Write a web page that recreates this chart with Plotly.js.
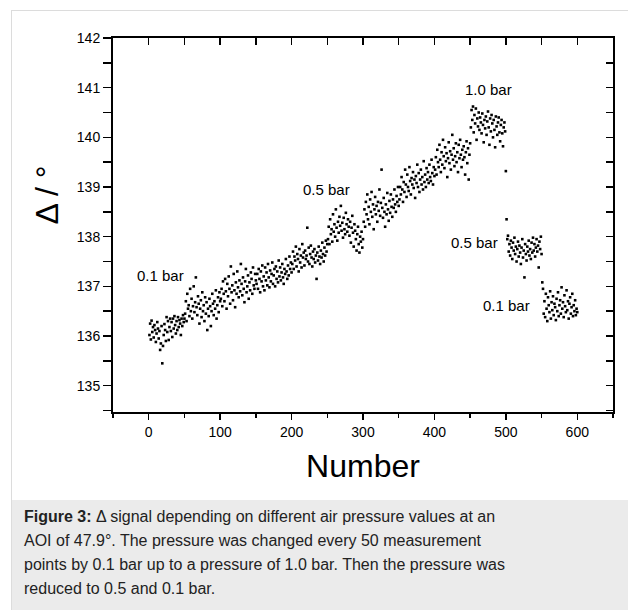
<!DOCTYPE html>
<html><head><meta charset="utf-8">
<script src="https://cdn.plot.ly/plotly-3.0.1.min.js"></script>
<style>
body{margin:0;width:628px;height:610px;position:relative;overflow:hidden;background:#fff;font-family:"Liberation Sans",Arial,sans-serif;}
#frame{position:absolute;left:11px;top:10px;width:640px;height:620px;border-left:1px solid #dcdcdc;border-top:1px solid #dcdcdc;}
#plot{position:absolute;left:0;top:0;width:628px;height:610px;}
#cap{position:absolute;left:12px;top:500px;width:616px;height:110px;background:#ebebeb;color:#222;font-size:16px;line-height:24px;padding:5px 0 0 12px;box-sizing:border-box;white-space:nowrap;}
</style></head>
<body>
<div id="frame"></div>
<div id="plot"></div>
<div id="cap"><b>Figure 3:</b> Δ signal depending on different air pressure values at an<br>AOI of 47.9°. The pressure was changed every 50 measurement<br>points by 0.1 bar up to a pressure of 1.0 bar. Then the pressure was<br>reduced to 0.5 and 0.1 bar.</div>
<script>
// Δ values (degrees), one array per 50 measurement points
const p01a = [136.02,136.25,135.93,136.31,136.08,136.18,135.97,136.22,136.12,135.88,
136.05,136.28,136.15,135.95,136.10,135.72,135.85,136.20,135.45,135.80,
136.02,136.24,136.12,135.90,136.38,136.08,136.30,135.92,136.18,136.35,
136.10,136.28,135.98,136.35,136.15,136.40,136.22,136.05,136.30,136.12,
136.38,136.18,136.32,136.25,136.02,136.35,136.20,136.42,136.28,136.35];
const p02 = [136.45,136.70,136.30,136.85,136.55,136.62,136.40,136.95,136.50,136.75,
136.35,136.60,137.00,136.48,136.68,137.18,136.58,136.42,136.80,136.65,
136.25,136.55,136.72,136.38,136.88,136.50,136.62,136.30,136.78,136.45,
136.68,136.12,136.55,136.40,136.75,136.60,136.20,136.50,136.85,136.65,
136.42,136.70,136.55,136.92,136.35,136.62,136.78,136.48,136.88,136.70];
const p03 = [136.75,136.95,136.60,137.10,136.85,136.70,137.15,136.90,136.55,137.05,
136.80,137.20,136.95,136.65,137.40,136.88,137.02,136.72,137.25,136.92,
136.58,137.08,136.85,137.30,136.98,136.78,137.12,136.90,137.45,137.05,
136.82,137.18,136.95,136.68,137.10,137.35,136.88,137.00,137.22,136.75,
137.08,136.92,137.28,137.15,136.85,137.38,137.02,136.95,137.25,137.12];
const p04 = [137.05,137.25,136.95,137.35,137.15,136.88,137.30,137.10,137.42,137.00,
137.20,136.92,137.38,137.12,137.28,137.02,137.45,137.18,136.98,137.32,
137.10,137.25,137.48,137.05,137.22,137.35,137.00,137.40,137.15,137.30,
137.08,137.52,137.20,137.38,137.12,137.28,137.45,137.18,137.05,137.35,
137.25,137.55,137.30,137.15,137.42,137.22,137.60,137.35,137.48,137.28];
const p05 = [137.45,137.70,137.35,137.60,137.52,137.80,137.40,137.65,137.55,137.30,
137.75,137.48,137.62,137.38,137.85,137.58,137.68,137.42,137.72,137.55,
137.62,138.18,137.50,137.78,137.45,137.65,137.82,137.58,137.40,137.70,
137.55,137.75,137.48,137.62,137.15,137.68,137.52,137.80,137.60,137.45,
137.72,137.58,137.88,137.65,137.50,137.78,137.62,137.92,137.70,137.85];
const p06 = [137.95,138.20,137.85,138.35,138.05,138.15,137.90,138.45,138.10,138.25,
138.00,138.55,138.18,137.92,138.30,138.08,138.40,138.22,138.62,138.12,
138.28,137.98,138.38,138.15,138.05,138.48,138.25,138.10,138.35,138.20,
138.02,138.30,137.88,138.18,138.42,138.08,137.80,138.25,138.12,137.95,
137.72,138.05,138.20,137.85,137.68,138.00,137.90,138.10,137.78,137.95];
const p07 = [138.30,138.55,138.20,138.70,138.45,138.85,138.35,138.60,138.25,138.75,
138.50,138.90,138.40,138.65,138.15,138.55,138.80,138.45,138.62,138.30,
138.70,138.52,138.95,138.42,138.68,139.35,138.58,138.38,138.78,138.50,
138.20,138.65,138.45,138.88,138.55,138.32,138.72,138.48,138.85,138.60,
138.40,138.75,138.58,138.95,138.65,138.50,138.82,138.70,139.00,138.62];
const p08 = [138.75,139.00,138.85,139.20,138.95,138.70,139.10,138.90,139.35,139.05,
138.80,139.25,139.00,138.92,139.40,139.12,138.85,139.18,139.05,139.30,
138.98,139.15,138.78,139.22,139.08,139.45,139.00,139.28,138.90,139.15,
139.35,139.05,139.20,138.95,139.52,139.10,139.25,139.00,139.38,139.15,
139.30,139.08,139.45,139.20,139.12,139.55,139.28,139.05,139.40,139.22];
const p09 = [139.35,139.60,139.25,139.75,139.50,139.40,139.85,139.55,139.30,139.70,
139.45,139.95,139.62,139.38,139.80,139.52,139.68,139.20,139.58,139.90,
139.48,139.72,139.35,139.65,140.05,139.55,139.78,139.42,139.62,139.88,
139.50,139.70,139.30,139.85,139.58,139.95,139.65,139.40,139.75,139.55,
139.82,139.60,139.25,139.70,139.92,139.48,139.78,139.15,139.65,139.88];
const p10 = [140.20,140.55,140.35,140.62,140.10,140.45,140.28,140.58,139.95,140.38,
140.22,140.50,140.15,140.40,140.30,140.08,140.48,140.25,139.90,140.35,
140.18,140.42,140.05,140.32,140.52,140.20,139.85,140.38,140.12,140.45,
140.28,140.00,140.35,140.15,139.80,140.42,140.22,140.05,140.30,140.40,
140.10,139.92,140.25,140.35,140.08,139.82,140.20,140.30,140.12,139.32];
const p05b = [138.35,137.95,138.02,137.70,137.85,137.62,137.92,137.78,137.55,137.88,
137.72,137.98,137.65,137.80,137.50,137.75,137.90,137.60,137.82,137.68,
137.45,137.78,137.95,137.58,137.72,137.18,137.85,137.65,137.52,137.80,
137.70,137.92,137.62,137.75,137.55,137.88,137.68,137.98,137.72,137.85,
137.60,137.78,137.95,137.70,137.82,137.38,137.90,137.75,138.00,137.65];
const p01b = [137.08,136.95,136.45,136.70,136.38,136.85,136.55,136.30,136.78,136.62,
136.48,136.90,136.35,136.68,136.52,136.80,136.42,136.65,136.58,136.32,
136.75,136.50,136.88,136.40,136.62,136.72,136.45,136.98,136.55,136.68,
136.38,136.82,136.60,136.48,136.92,136.52,136.70,136.35,136.65,136.78,
136.45,136.58,136.85,136.40,136.62,136.50,136.72,136.42,136.55,136.48];

const labelTexts = ["0.1 bar","0.5 bar","1.0 bar","0.5 bar","0.1 bar"];
const labelX = [16, 249, 476, 456, 501];
const labelY = [137.22, 138.94, 140.96, 137.89, 136.62];

const deltaValues = [].concat(p01a,p02,p03,p04,p05,p06,p07,p08,p09,p10,p05b,p01b);
const numbers = deltaValues.map((v,i)=>i+1);

const FONT = '"Liberation Sans", Arial, sans-serif';
const xr = [-50, 650], yr = [134.47, 142];

const traces = [
  {x: numbers, y: deltaValues, type:'scatter', mode:'markers',
   marker:{symbol:'square', size:2.6, color:'#000'}, hoverinfo:'x+y', showlegend:false},
  {x: [], y: [], xaxis:'x2', yaxis:'y2', type:'scatter', mode:'markers', showlegend:false, hoverinfo:'skip'}
];

const annotations = labelTexts.map((t,i)=>({x:labelX[i], y:labelY[i], xref:'x', yref:'y', text:t, showarrow:false,
  font:{family:FONT, size:15, color:'#000'}}));
annotations.push({xref:'paper', yref:'paper', x:-0.171, y:0.58, text:'Δ / °', textangle:-90, showarrow:false,
  font:{family:FONT, size:32, color:'#000'}});

const layout = {
  width:628, height:610,
  margin:{l:113, r:15, t:38, b:198},
  paper_bgcolor:'rgba(0,0,0,0)', plot_bgcolor:'rgba(0,0,0,0)',
  font:{family:FONT, color:'#000'},
  xaxis:{range:xr, autorange:false, dtick:100, tick0:0, ticks:'outside', ticklen:6, tickwidth:1.5, tickcolor:'#000',
    minor:{dtick:50, tick0:0, ticks:'outside', ticklen:4, tickwidth:1.5, tickcolor:'#000'},
    showline:true, linewidth:2, linecolor:'#000', showgrid:false, zeroline:false,
    tickfont:{family:FONT, size:14, color:'#000'}, ticklabelstandoff:0,
    title:{text:'Number', font:{family:FONT, size:32, color:'#000'}, standoff:16}},
  yaxis:{range:yr, autorange:false, dtick:1, tick0:135, ticks:'outside', ticklen:8, tickwidth:1.5, tickcolor:'#000',
    minor:{dtick:0.5, tick0:135, ticks:'outside', ticklen:8, tickwidth:1.5, tickcolor:'#000'},
    showline:true, linewidth:2, linecolor:'#000', showgrid:false, zeroline:false,
    tickfont:{family:FONT, size:14, color:'#000'}},
  xaxis2:{range:xr, autorange:false, overlaying:'x', side:'top', anchor:'y', dtick:50, tick0:0, ticks:'inside', ticklen:7,
    tickwidth:1.5, tickcolor:'#000', showticklabels:false, showline:true, linewidth:2, linecolor:'#000', showgrid:false, zeroline:false},
  yaxis2:{range:yr, autorange:false, overlaying:'y', side:'right', anchor:'x', dtick:0.5, tick0:135, ticks:'inside', ticklen:7,
    tickwidth:1.5, tickcolor:'#000', showticklabels:false, showline:true, linewidth:2, linecolor:'#000', showgrid:false, zeroline:false},
  annotations: annotations
};

Plotly.newPlot('plot', traces, layout, {displayModeBar:false, staticPlot:true});
</script>
</body></html>
